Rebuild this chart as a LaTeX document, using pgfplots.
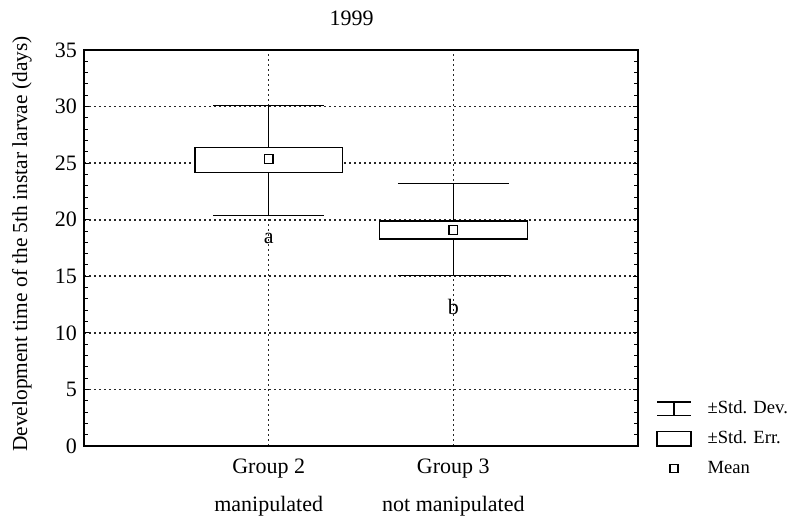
\documentclass[border=0pt]{standalone}
\usepackage{pgfplots}
\pgfplotsset{compat=1.18}
\usepackage{fontspec}
\setmainfont{Liberation Serif}
\begin{document}
\begin{tikzpicture}
\begin{axis}[
  scale only axis, width=277pt, height=198pt,
  xmin=0, xmax=3, ymin=0, ymax=35,
  xtick={1,2},
  xticklabels={{Group 2\\[5.5pt]manipulated},{Group 3\\[5.5pt]not manipulated}},
  xticklabel style={align=center, font=\fontsize{11}{13.5}\selectfont, yshift=-3pt},
  xtick style={draw=none},
  ytick={0,5,...,35}, minor y tick num=4,
  tick align=inside, ytick pos=both,
  major tick length=2.5pt, minor tick length=2pt,
  ytick style={line width=0.6pt, black},
  minor y tick style={line width=0.5pt, black},
  yticklabel style={font=\fontsize{11}{13}\selectfont},
  /pgf/number format/assume math mode=true,
  xmajorgrids, ymajorgrids,
  grid style={black!85, line width=0.8pt, dash pattern=on 0.8pt off 1.7pt},
  axis line style={line width=1pt},
  ylabel={Development time of the 5th instar larvae (days)},
  ylabel style={at={(axis description cs:-0.112,0.51)}, anchor=center, font=\fontsize{10.7}{13}\selectfont},
  title={1999},
  title style={at={(axis description cs:0.483,1)}, anchor=center, yshift=10pt, font=\fontsize{11}{13}\selectfont},
  legend style={at={(axis description cs:1.0325,0.131)}, anchor=north west, draw=none, fill=none,
    inner sep=0pt, row sep=1pt, font=\fontsize{9.3}{11}\selectfont,
    nodes={inner sep=2pt, text height=7.5pt, text depth=2.5pt},
    /tikz/every odd column/.append style={column sep=6pt}},
  legend cell align=left,
]
% Group 2
\addplot[black, line width=0.5pt, forget plot] coordinates {(1,20.35) (1,30.12)};
\addplot[black, line width=0.6pt, forget plot] coordinates {(0.7,30.12) (1.3,30.12)};
\addplot[black, line width=0.6pt, forget plot] coordinates {(0.7,20.35) (1.3,20.35)};
\addplot[black, line width=0.7pt, fill=white, forget plot] coordinates {(0.6,24.16) (1.4,24.16) (1.4,26.38) (0.6,26.38) (0.6,24.16)};
% Group 3
\addplot[black, line width=0.5pt, forget plot] coordinates {(2,15.1) (2,23.2)};
\addplot[black, line width=0.6pt, forget plot] coordinates {(1.7,23.2) (2.3,23.2)};
\addplot[black, line width=0.6pt, forget plot] coordinates {(1.7,15.1) (2.3,15.1)};
\addplot[black, line width=0.7pt, fill=white, forget plot] coordinates {(1.6,18.3) (2.4,18.3) (2.4,19.9) (1.6,19.9) (1.6,18.3)};
% Means
\addplot[only marks, mark=square*, mark size=2.2pt, mark options={line width=0.6pt, draw=black, fill=white}, forget plot] coordinates {(1,25.39) (2,19.1)};
\node[font=\fontsize{11}{13}\selectfont] at (axis cs:1,18.3) {a};
\node[font=\fontsize{11}{13}\selectfont] at (axis cs:2,12.3) {b};
% Legend
\addlegendimage{legend image code/.code={\draw[line width=0.6pt] (0pt,3.3pt) -- (17pt,3.3pt) (0pt,-3.3pt) -- (17pt,-3.3pt) (8.5pt,-3.3pt) -- (8.5pt,3.3pt);}}
\addlegendentry{±Std. Dev.}
\addlegendimage{legend image code/.code={\draw[line width=0.6pt] (0pt,-3.7pt) rectangle (17pt,3.7pt);}}
\addlegendentry{±Std. Err.}
\addlegendimage{legend image code/.code={\draw[line width=0.6pt] (6.5pt,-2pt) rectangle (10.5pt,2pt);}}
\addlegendentry{Mean}
\end{axis}
\pgfresetboundingbox
\path ([xshift=-42pt,yshift=-38pt]current axis.south west) rectangle ([xshift=75.5pt,yshift=25pt]current axis.north east);
\end{tikzpicture}
\end{document}
